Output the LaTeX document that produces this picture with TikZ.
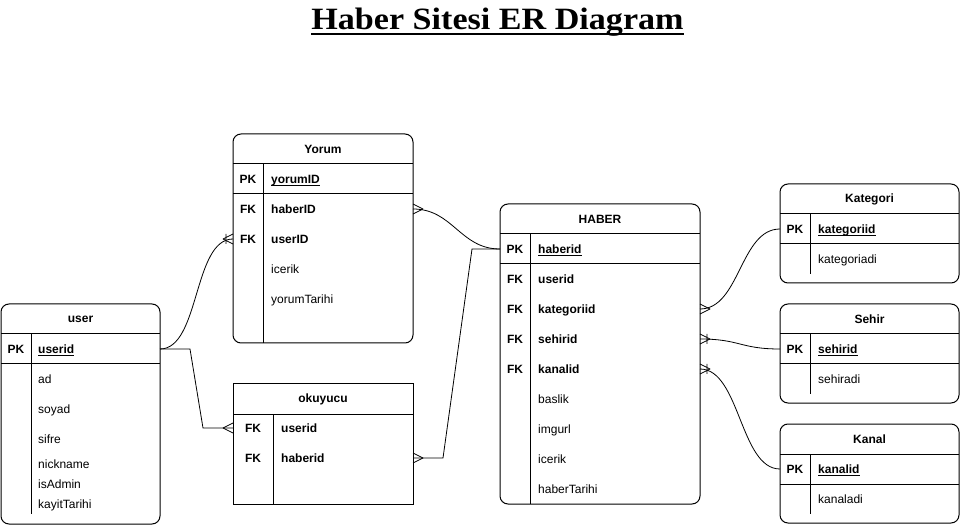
\documentclass[tikz,border=0pt]{standalone}
\usepackage{fontspec}
\setmainfont{Liberation Sans}
\newfontfamily\titlefont[FakeStretch=1.1]{Liberation Serif}
\usepackage{tikz}

% crow's foot tips
\pgfdeclarearrow{
  name = many,
  setup code = {
    \pgfarrowssettipend{0pt}
    \pgfarrowssetlineend{0pt}
    \pgfarrowssetbackend{-10pt}
    \pgfarrowssetvisualbackend{-10pt}
    \pgfarrowshullpoint{0pt}{5pt}
    \pgfarrowshullpoint{0pt}{-5pt}
    \pgfarrowshullpoint{-10pt}{0pt}
  },
  drawing code = {
    \pgfsetdash{}{0pt}
    \pgfsetroundjoin
    \pgfpathmoveto{\pgfqpoint{0pt}{5pt}}
    \pgfpathlineto{\pgfqpoint{-10pt}{0pt}}
    \pgfpathlineto{\pgfqpoint{0pt}{-5pt}}
    \pgfusepathqstroke
  }
}
\pgfdeclarearrow{
  name = onemany,
  setup code = {
    \pgfarrowssettipend{0pt}
    \pgfarrowssetlineend{0pt}
    \pgfarrowssetbackend{-10pt}
    \pgfarrowssetvisualbackend{-10pt}
    \pgfarrowshullpoint{0pt}{5pt}
    \pgfarrowshullpoint{0pt}{-5pt}
    \pgfarrowshullpoint{-10pt}{0pt}
  },
  drawing code = {
    \pgfsetdash{}{0pt}
    \pgfsetroundjoin
    \pgfpathmoveto{\pgfqpoint{0pt}{5pt}}
    \pgfpathlineto{\pgfqpoint{-10pt}{0pt}}
    \pgfpathlineto{\pgfqpoint{0pt}{-5pt}}
    \pgfpathmoveto{\pgfqpoint{-7pt}{5pt}}
    \pgfpathlineto{\pgfqpoint{-7pt}{-5pt}}
    \pgfusepathqstroke
  }
}

\newcommand\pkul[1]{\setbox0\hbox{#1}\rlap{\rule[-2.2pt]{\wd0}{0.9pt}}\box0}

\tikzset{
  tbl/.style={draw, line width=1pt, inner sep=0pt, outer sep=0pt, anchor=north west},
  rtbl/.style={tbl, rounded corners=8pt},
  sep/.style={line width=1pt},
  ttl/.style={inner sep=0pt, font=\fontsize{12}{14}\selectfont\bfseries},
  key/.style={inner sep=0pt, text height=9pt, text depth=0pt, font=\fontsize{12}{14}\selectfont\bfseries},
  fld/.style={key, anchor=west},
  att/.style={fld, font=\fontsize{12}{14}\selectfont},
  rel/.style={line width=0.8pt},
}

\begin{document}
\begin{tikzpicture}[x=1pt, y=-1pt]
  % Page and bounding box
  \fill[white] (0,0) rectangle (961,526);
  \useasboundingbox (0,0) rectangle (961,526);

  % Title
  \node[inner sep=0pt, anchor=base, font=\titlefont\bfseries\fontsize{31}{36}\selectfont] (title) at (497.5,30) {Haber Sitesi ER Diagram};
  \draw[line width=1.8pt] ([yshift=-4pt]title.base west) -- ([yshift=-4pt]title.base east);

  % user
  \node[rtbl, minimum width=159pt, minimum height=220pt] (user) at (1,304) {};
  \draw[sep] (1,334) -- (160,334);
  \draw[sep] (1,364) -- (160,364);
  \draw[sep] (31,334) -- (31,514);
  \node[ttl] (user-t) at (80.5,319) {user};
  \node[key] (user-pk) at (16,349) {PK};
  \node[fld] (user-id) at (38,349) {\pkul{userid}};
  \node[att] (user-ad) at (38,379) {ad};
  \node[att] (user-soyad) at (38,409) {soyad};
  \node[att] (user-sifre) at (38,439) {sifre};
  \node[att] (user-nick) at (38,464) {nickname};
  \node[att] (user-admin) at (38,484) {isAdmin};
  \node[att] (user-tarih) at (38,504) {kayitTarihi};

  % Yorum
  \node[rtbl, minimum width=180pt, minimum height=209pt] (yorum) at (233,134) {};
  \draw[sep] (233,164) -- (413,164);
  \draw[sep] (233,194) -- (413,194);
  \draw[sep] (263,164) -- (263,343);
  \node[ttl] (yorum-t) at (323,149) {Yorum};
  \node[key] (yorum-pk) at (248,179) {PK};
  \node[fld] (yorum-id) at (271,179) {\pkul{yorumID}};
  \node[key] (yorum-fk1) at (248,209) {FK};
  \node[fld] (yorum-haber) at (271,209) {haberID};
  \node[key] (yorum-fk2) at (248,239) {FK};
  \node[fld] (yorum-user) at (271,239) {userID};
  \node[att] (yorum-icerik) at (271,269) {icerik};
  \node[att] (yorum-tarih) at (271,299) {yorumTarihi};

  % okuyucu
  \node[tbl, minimum width=180pt, minimum height=120pt] (okuyucu) at (233,384) {};
  \draw[sep] (233,414) -- (413,414);
  \draw[sep] (273,414) -- (273,504);
  \node[ttl] (okuyucu-t) at (323,399) {okuyucu};
  \node[key] (okuyucu-fk1) at (253,428) {FK};
  \node[fld] (okuyucu-user) at (281,428) {userid};
  \node[key] (okuyucu-fk2) at (253,458) {FK};
  \node[fld] (okuyucu-haber) at (281,458) {haberid};

  % HABER
  \node[rtbl, minimum width=200pt, minimum height=300pt] (haber) at (500,204) {};
  \draw[sep] (500,234) -- (700,234);
  \draw[sep] (500,264) -- (700,264);
  \draw[sep] (530,234) -- (530,504);
  \node[ttl] (haber-t) at (600,219) {HABER};
  \node[key] (haber-pk) at (515,249) {PK};
  \node[fld] (haber-id) at (538,249) {\pkul{haberid}};
  \node[key] (haber-fk1) at (515,279) {FK};
  \node[fld] (haber-user) at (538,279) {userid};
  \node[key] (haber-fk2) at (515,309) {FK};
  \node[fld] (haber-kat) at (538,309) {kategoriid};
  \node[key] (haber-fk3) at (515,339) {FK};
  \node[fld] (haber-sehir) at (538,339) {sehirid};
  \node[key] (haber-fk4) at (515,369) {FK};
  \node[fld] (haber-kanal) at (538,369) {kanalid};
  \node[att] (haber-baslik) at (538,399) {baslik};
  \node[att] (haber-img) at (538,429) {imgurl};
  \node[att] (haber-icerik) at (538,459) {icerik};
  \node[att] (haber-tarih) at (538,489) {haberTarihi};

  % Kategori
  \node[rtbl, minimum width=179pt, minimum height=99pt] (kategori) at (780,184) {};
  \draw[sep] (780,214) -- (959,214);
  \draw[sep] (780,244) -- (959,244);
  \draw[sep] (810,214) -- (810,274);
  \node[ttl] (kategori-t) at (869.5,199) {Kategori};
  \node[key] (kategori-pk) at (795,229) {PK};
  \node[fld] (kategori-id) at (818,229) {\pkul{kategoriid}};
  \node[att] (kategori-ad) at (818,259) {kategoriadi};

  % Sehir
  \node[rtbl, minimum width=179pt, minimum height=99pt] (sehir) at (780,304) {};
  \draw[sep] (780,334) -- (959,334);
  \draw[sep] (780,364) -- (959,364);
  \draw[sep] (810,334) -- (810,394);
  \node[ttl] (sehir-t) at (869.5,319) {Sehir};
  \node[key] (sehir-pk) at (795,349) {PK};
  \node[fld] (sehir-id) at (818,349) {\pkul{sehirid}};
  \node[att] (sehir-ad) at (818,379) {sehiradi};

  % Kanal
  \node[rtbl, minimum width=179pt, minimum height=99pt] (kanal) at (780,424) {};
  \draw[sep] (780,454) -- (959,454);
  \draw[sep] (780,484) -- (959,484);
  \draw[sep] (810,454) -- (810,514);
  \node[ttl] (kanal-t) at (869.5,439) {Kanal};
  \node[key] (kanal-pk) at (795,469) {PK};
  \node[fld] (kanal-id) at (818,469) {\pkul{kanalid}};
  \node[att] (kanal-ad) at (818,499) {kanaladi};

  % Relations
  \draw[rel, -onemany] (user.east |- user-id) .. controls +(40,0) and +(-40,0) .. (yorum.west |- yorum-user);
  \draw[rel, -many] (user.east |- user-id) -- ++(30,0) -- ([xshift=-30pt]okuyucu.west |- okuyucu-user) -- (okuyucu.west |- okuyucu-user);
  \draw[rel, many-] (yorum.east |- yorum-haber) .. controls +(40,0) and +(-40,0) .. (haber.west |- haber-id);
  \draw[rel, many-] (okuyucu.east |- okuyucu-haber) -- ++(30,0) -- ([xshift=-28pt]haber.west |- haber-id) -- (haber.west |- haber-id);
  \draw[rel, many-] (haber.east |- haber-kat) .. controls +(40,0) and +(-40,0) .. (kategori.west |- kategori-id);
  \draw[rel, onemany-] (haber.east |- haber-sehir) .. controls +(40,0) and +(-40,0) .. (sehir.west |- sehir-id);
  \draw[rel, onemany-] (haber.east |- haber-kanal) .. controls +(40,0) and +(-40,0) .. (kanal.west |- kanal-id);
\end{tikzpicture}
\end{document}
